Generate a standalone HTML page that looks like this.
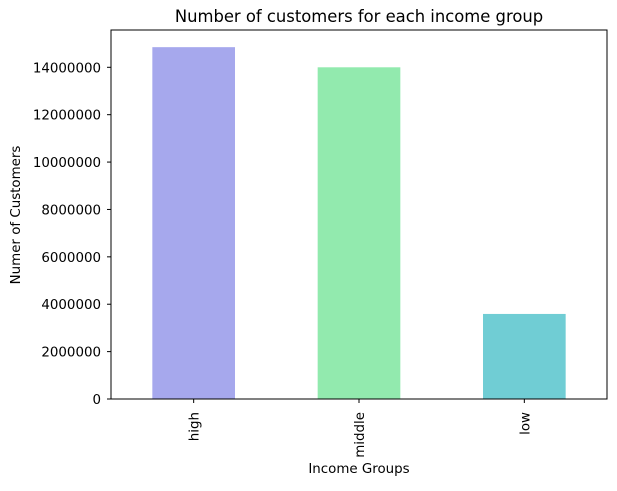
<!DOCTYPE html>
<html><head><meta charset="utf-8"><style>
body{margin:0;background:#fff;}
text{font-family:"DejaVu Sans","Liberation Sans",sans-serif;fill:#000;}
</style></head><body>
<svg id="chart" width="617" height="486">
<text x="359" y="22" font-size="16.4" text-anchor="middle">Number of customers for each income group</text>
<g id="bars"></g>
<g id="yticks"></g>
<g id="xticks"></g>
<rect x="111" y="30" width="496" height="369" fill="none" stroke="#000" stroke-width="1"/>
<text x="359" y="473" font-size="13.4" text-anchor="middle">Income Groups</text>
<text transform="translate(20,215) rotate(-90)" font-size="13.4" text-anchor="middle">Numer of Customers</text>
</svg>
<script>
const categories=["high","middle","low"];
const values=[14850000,14000000,3590000];
const colors=["#a6a8ed","#92eaae","#70cdd4"];
const yTicks=[0,2000000,4000000,6000000,8000000,10000000,12000000,14000000];
const ns="http://www.w3.org/2000/svg";
const x0=111,x1=607,yb=399,pxPerUnit=(399-67.3)/14000000;
const y=v=>yb-v*pxPerUnit;
const band=(x1-x0)/categories.length;
const bars=document.getElementById('bars'),yt=document.getElementById('yticks'),xt=document.getElementById('xticks');
categories.forEach((c,i)=>{
  const cx=x0+band*(i+0.5),w=band*0.5;
  const r=document.createElementNS(ns,'rect');
  r.setAttribute('x',cx-w/2);r.setAttribute('y',y(values[i]));
  r.setAttribute('width',w);r.setAttribute('height',yb-y(values[i]));
  r.setAttribute('fill',colors[i]);
  
  
  bars.appendChild(r);
  const l=document.createElementNS(ns,'line');
  l.setAttribute('x1',cx);l.setAttribute('x2',cx);l.setAttribute('y1',yb);l.setAttribute('y2',yb+4);l.setAttribute('stroke','#000');
  
  
  xt.appendChild(l);
  const t=document.createElementNS(ns,'text');
  t.setAttribute('transform',`translate(${cx+5},${yb+13}) rotate(-90)`);
  t.setAttribute('text-anchor','end');t.setAttribute('font-size','13.4');
  t.textContent=c;
  
  
  xt.appendChild(t);
});
yTicks.forEach(v=>{
  const yy=y(v);
  const l=document.createElementNS(ns,'line');
  l.setAttribute('x1',x0-4);l.setAttribute('x2',x0);l.setAttribute('y1',yy);l.setAttribute('y2',yy);l.setAttribute('stroke','#000');
  
  
  yt.appendChild(l);
  const t=document.createElementNS(ns,'text');
  t.setAttribute('x',x0-10);t.setAttribute('y',yy+5);t.setAttribute('text-anchor','end');t.setAttribute('font-size','13.4');
  t.textContent=String(v);
  
  
  yt.appendChild(t);
});
</script>
</body></html>
